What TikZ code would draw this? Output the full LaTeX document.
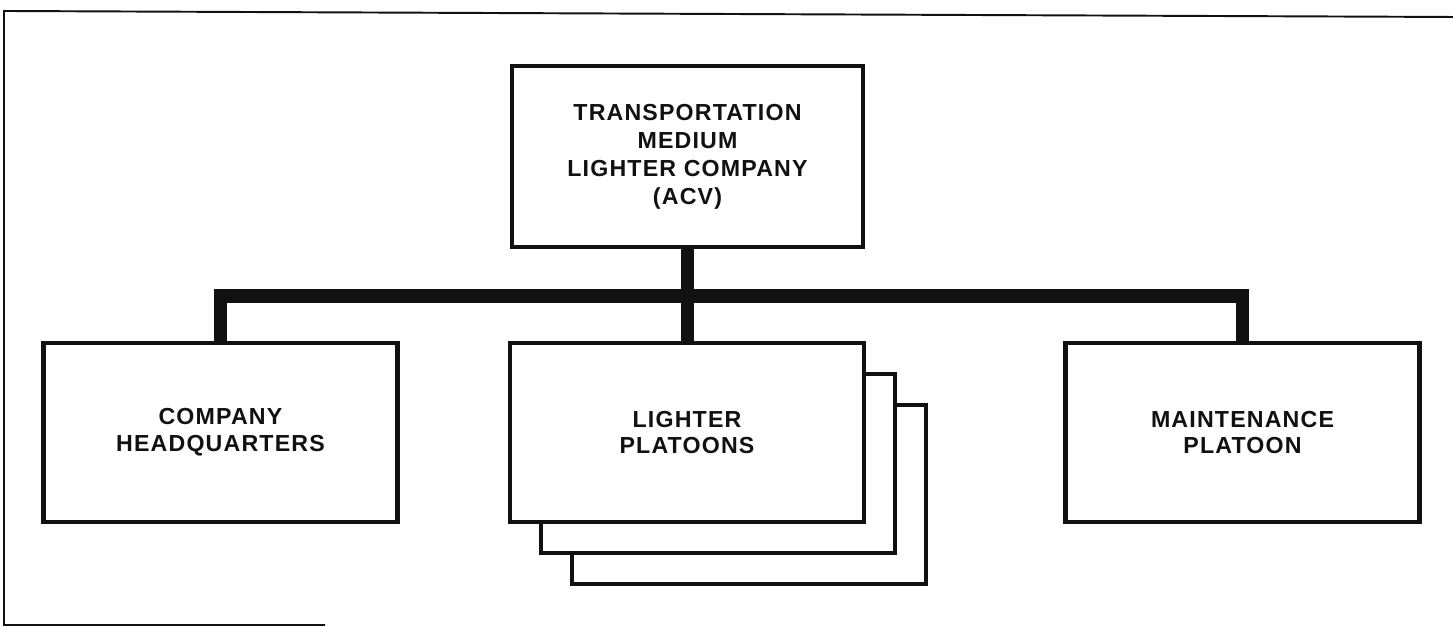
\documentclass[tikz,border=0pt]{standalone}
\usepackage{fontspec}
\setmainfont{Liberation Sans}[LetterSpace=5]
\usetikzlibrary{positioning}
\definecolor{ink}{HTML}{111111}
\tikzset{
  unit/.style={draw=ink, fill=white, line width=2.8pt, minimum width=7.08cm, minimum height=3.58cm,
    align=center, font=\fontsize{13.2}{15.3}\selectfont\bfseries, text=ink},
  topunit/.style={unit, minimum width=7.02cm, minimum height=3.62cm,
    font=\fontsize{13.2}{15.9}\selectfont\bfseries},
  bus/.style={draw=ink, line width=7.5pt},
  frame/.style={draw=ink, line width=1.1pt}
}

\begin{document}
\begin{tikzpicture}[x=1cm,y=1cm]
  \useasboundingbox (0,0) rectangle (29.06,12.54);
  \draw[frame] (6.5,0.04) -- (0.08,0.04) -- (0.08,12.32) -- (29.06,12.2);

  \node[topunit] (company) at (13.75,9.41) {TRANSPORTATION\\MEDIUM\\LIGHTER COMPANY\\(ACV)};

  \node[unit] (lighter3) at (14.98,2.65) {};
  \node[unit] (lighter2) at (14.36,3.27) {};
  \node[unit] (lighter) at (13.74,3.89) {LIGHTER\\PLATOONS};
  \node[unit] (hq) at (4.41,3.89) {COMPANY\\HEADQUARTERS};
  \node[unit] (maint) at (24.85,3.89) {MAINTENANCE\\PLATOON};

  \coordinate (busmid) at (13.75,6.62);
  \draw[bus] (company.south) -- (company.south |- lighter.north);
  \draw[bus] (hq.north) |- (busmid) -| (maint.north);
\end{tikzpicture}
\end{document}
